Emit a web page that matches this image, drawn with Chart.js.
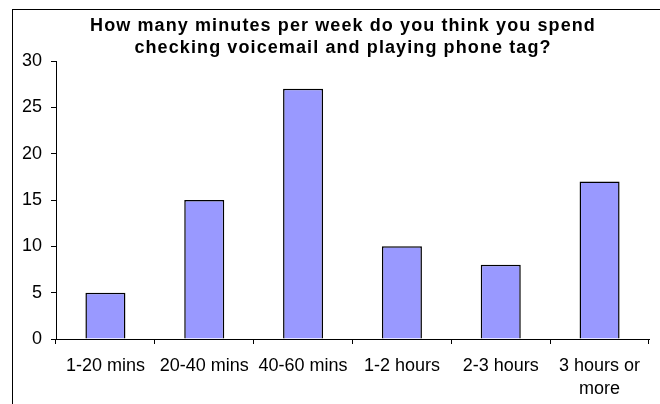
<!DOCTYPE html>
<html>
<head>
<meta charset="utf-8">
<script src="https://cdn.jsdelivr.net/npm/chart.js@4/dist/chart.umd.min.js"></script>
<style>
    body { margin: 0; background: #fff; }
    #wrap { width: 660px; height: 404px; position: relative; }
</style>
</head>
<body>
<div id="wrap"><canvas id="voicemailChart" width="660" height="404"></canvas></div>
<script>
// Survey answers
const categories = ['1-20 mins', '20-40 mins', '40-60 mins', '1-2 hours', '2-3 hours', ['3 hours or', 'more']];
const responses = [5, 15, 27, 10, 8, 17];
const yTicks = [0, 5, 10, 15, 20, 25, 30];
const titleLines = ['How many minutes per week do you think you spend', 'checking voicemail and playing phone tag?'];

const FONT = "'Liberation Sans', Arial, sans-serif";

// Frame around the chart (right and bottom edges fall outside the picture)
const framePlugin = {
    id: 'frame',
    beforeDraw(chart) {
        const ctx = chart.ctx;
        ctx.save();
        ctx.fillStyle = '#fff';
        ctx.fillRect(0, 0, chart.width, chart.height);
        ctx.strokeStyle = '#000';
        ctx.lineWidth = 1;
        ctx.strokeRect(12.5, 9.5, 720, 500);
        ctx.restore();
    }
};

// Title drawn with some letter spacing, like the original export
const spacedTitle = {
    id: 'spacedTitle',
    afterDraw(chart) {
        const ctx = chart.ctx;
        ctx.save();
        ctx.font = 'bold 18px ' + FONT;
        ctx.letterSpacing = '1.1px';
        ctx.fillStyle = '#000';
        ctx.textAlign = 'center';
        ctx.textBaseline = 'middle';
        titleLines.forEach((line, i) => {
            ctx.fillText(line, 343, 26 + i * 22);
        });
        ctx.restore();
    }
};

const ctx = document.getElementById('voicemailChart').getContext('2d');
new Chart(ctx, {
    type: 'bar',
    data: {
        labels: categories,
        datasets: [{
            data: responses,
            backgroundColor: '#9999ff',
            borderColor: '#000',
            borderWidth: 1.5,
            categoryPercentage: 1,
            barPercentage: 0.405
        }]
    },
    options: {
        responsive: false,
        animation: false,
        layout: {
            padding: { top: 61, right: 11, bottom: 0, left: 0 }
        },
        plugins: {
            legend: { display: false },
            title: { display: false },
            tooltip: { enabled: false }
        },
        scales: {
            x: {
                grid: {
                    drawOnChartArea: false,
                    tickLength: 5,
                    color: '#000'
                },
                border: { color: '#000', width: 1 },
                ticks: {
                    color: '#000',
                    font: { family: FONT, size: 18, lineHeight: 1.25 },
                    padding: 11,
                    maxRotation: 0,
                    autoSkip: false
                },
                afterFit(scale) { scale.height = 65; }
            },
            y: {
                min: 0,
                max: 30,
                grid: {
                    drawOnChartArea: false,
                    tickLength: 5,
                    color: '#000'
                },
                border: { color: '#000', width: 1 },
                afterBuildTicks(scale) {
                    scale.ticks = yTicks.map(v => ({ value: v }));
                },
                ticks: {
                    color: '#000',
                    font: { family: FONT, size: 18 },
                    padding: 9
                },
                afterFit(scale) { scale.width = 56; }
            }
        }
    },
    plugins: [framePlugin, spacedTitle]
});
</script>
</body>
</html>
